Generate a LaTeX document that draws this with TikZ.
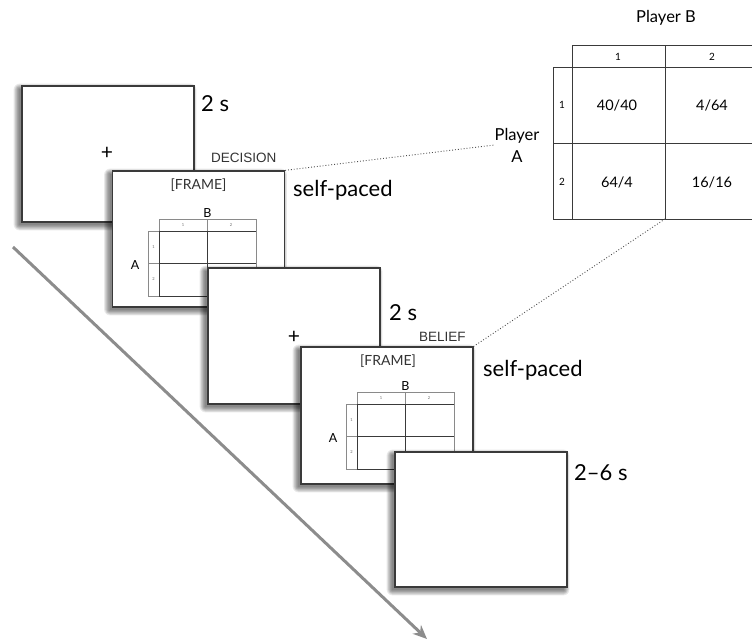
\documentclass[tikz,border=0pt]{standalone}
\usepackage{fontspec}
\setmainfont{Lato}
\newfontfamily\arialfont{Liberation Sans}
\usetikzlibrary{arrows.meta,calc}
\definecolor{edge}{HTML}{3A3A3A}
\definecolor{thin}{HTML}{8A8A8A}
\definecolor{arrowgray}{HTML}{8C8C8C}
\tikzset{
  screen/.style={draw=edge, line width=1.3pt, fill=white, minimum width=172pt, inner sep=0pt},
  dur/.style={anchor=west, font=\fontsize{22}{24}\selectfont, inner sep=0pt},
  phase/.style={anchor=west, font=\arialfont\fontsize{13.5}{15}\selectfont, text=black!80, inner sep=0pt},
  frametxt/.style={font=\fontsize{14}{16}\selectfont, text=black!80, inner sep=0pt},
  tablbl/.style={font=\fontsize{16.5}{18}\selectfont, inner sep=0pt, align=center},
  celltxt/.style={font=\fontsize{14.5}{16}\selectfont, inner sep=0pt},
  hdrtxt/.style={font=\fontsize{10}{11}\selectfont, inner sep=0pt},
  tinytxt/.style={font=\fontsize{4}{5}\selectfont, text=black!60, inner sep=0pt},
  minilbl/.style={font=\fontsize{12.5}{14}\selectfont, inner sep=0pt},
  crosstxt/.style={font=\fontsize{21}{22}\selectfont, inner sep=0pt},
  grid/.style={draw=edge, line width=0.9pt},
  thingrid/.style={draw=thin, line width=0.6pt},
  dots/.style={dotted, line width=0.9pt, draw=black!70},
  shadowlayer/.style={fill=black, opacity=0.085},
}
% name, center, height
\newcommand\screenat[3]{%
  \foreach \d in {0,...,6} {%
    \fill[shadowlayer, rounded corners=\d pt]
      ($#2+(-3,3)+(-86-\d*0.9,-#3/2-\d*0.9)$) rectangle ($#2+(-3,3)+(86+\d*0.9,#3/2+\d*0.9)$);}
  \node[screen, minimum height=#3 pt] (#1) at #2 {};}
\newcommand\minitab[2]{%
  \begin{scope}[shift={#1}]
    \draw[thingrid] (0,0) rectangle (97,12);
    \draw[thingrid] (48.5,0) -- (48.5,12);
    \draw[thingrid] (-11,12) rectangle (0,77);
    \draw[grid] (0,12) -- (97,12) (0,12) -- (0,77) -- (97,77);
    \draw[grid] (0,44) -- (97,44);
    \draw[grid] (48.5,12) -- (48.5,77);
    \draw[thingrid] (97,12) -- (97,77);
    \draw[thingrid] (-11,44) -- (0,44);
    \node[tinytxt] (#2h1) at (24,6) {1};
    \node[tinytxt] (#2h2) at (72,6) {2};
    \node[tinytxt] (#2r1) at (-5.5,28) {1};
    \node[tinytxt] (#2r2) at (-5.5,60) {2};
    \node[minilbl] (#2B) at (48.5,-6) {B};
    \node[minilbl] (#2A) at (-24,46) {A};
  \end{scope}}
\begin{document}
\begin{tikzpicture}[x=1pt,y=-1pt]
\useasboundingbox (0,0) rectangle (752,641);
% time arrow
\coordinate (t0) at (13,247);
\coordinate (t1) at (427,639);
\draw[arrowgray, line width=3pt, -{Stealth[length=14pt,width=12pt]}] (t0) -- (t1);

% payoff table
\coordinate (tb) at (665,219);
\draw[grid] (572,45) -- (752,45);
\draw[grid] (553,67) -- (752,67);
\draw[grid] (553,143) -- (752,143);
\draw[grid] (553,219) -- (752,219);
\draw[grid] (572,45) -- (572,219);
\draw[grid] (553,67) -- (553,219);
\draw[grid] (665,45) -- (665,219);
\node[tablbl] (pB) at (666,18) {Player B};
\node[tablbl] (pA) at (517,145) {Player\\[4pt]A};
\node[hdrtxt] (c1) at (618,57) {1};
\node[hdrtxt] (c2) at (712,57) {2};
\node[hdrtxt] (r1) at (562,105) {1};
\node[hdrtxt] (r2) at (562,182) {2};
\node[celltxt] (v11) at (617,105) {40/40};
\node[celltxt] (v12) at (712,105) {4/64};
\node[celltxt] (v21) at (617,182) {64/4};
\node[celltxt] (v22) at (712,182) {16/16};

% screens
\screenat{s1}{(108,154)}{136}
\node[crosstxt] (p1) at (107,153) {+};
\node[dur] (d1) at (201,104) {2 s};
\node[phase] (ph1) at (211,158) {DECISION};

\screenat{s2}{(198.5,239)}{136}
\node[frametxt] (f2) at (198.5,185) {[FRAME]};
\minitab{(159,219)}{m2}
\node[dur] (d2) at (293,190) {self-paced};

\screenat{s3}{(294,336)}{136}
\node[crosstxt] (p3) at (294,337) {+};
\node[dur] (d3) at (389,313) {2 s};
\node[phase] (ph3) at (419,337) {BELIEF};

\screenat{s4}{(387,415.5)}{137}
\node[frametxt] (f4) at (388,361) {[FRAME]};
\minitab{(357,392)}{m4}
\node[dur] (d4) at (483,370) {self-paced};

\screenat{s5}{(481,519.5)}{135}
\node[dur] (d5) at (574,473) {2–6 s};

% dotted connectors
\draw[dots] (s2.north east) -- (pA.west);
\draw[dots] (tb) -- (s4.north east);
\end{tikzpicture}
\end{document}
